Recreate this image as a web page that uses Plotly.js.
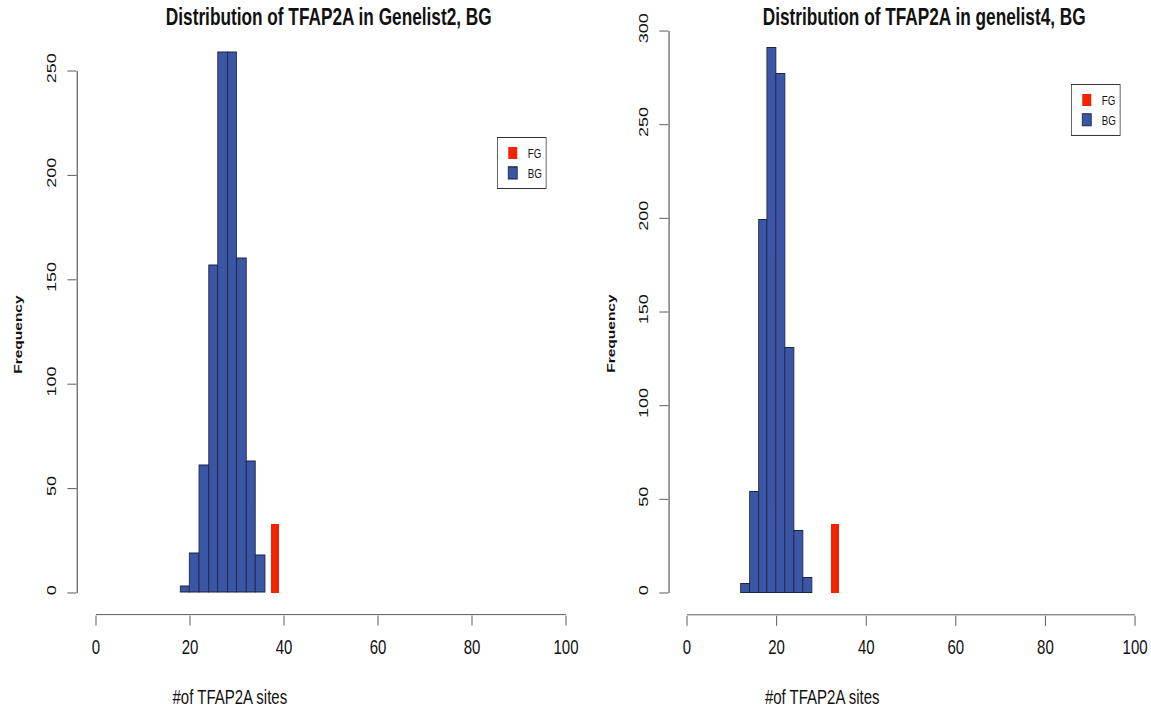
<!DOCTYPE html>
<html>
<head>
<meta charset="utf-8">
<script src="https://cdn.plot.ly/plotly-3.0.1.min.js"></script>
<style>
  html, body { margin: 0; padding: 0; background: #ffffff; overflow: hidden; }
  /* the figure is laid out on a wider canvas and condensed horizontally */
  #chart { width: 1535px; height: 708px; transform: scaleX(0.74984); transform-origin: 0 0; }
</style>
</head>
<body>
<div id="chart"></div>
<script>
// Background (BG) histogram counts, bins of width 2 given by their left edge
const bgLeftEdges  = [18, 20, 22, 24, 26, 28, 30, 32, 34];
const bgLeftCounts = [3, 19, 61, 157, 259, 259, 160, 63, 18];
const bgRightEdges  = [12, 14, 16, 18, 20, 22, 24, 26];
const bgRightCounts = [5, 54, 199, 291, 277, 131, 33, 8];

// Foreground (FG) value of each gene list and the height of its marker
const fgLeftValue   = [38];
const fgLeftHeight  = [33];
const fgRightValue  = [33];
const fgRightHeight = [37];

const xTickVals      = [0, 20, 40, 60, 80, 100];
const yTickValsLeft  = [0, 50, 100, 150, 200, 250];
const yTickValsRight = [0, 50, 100, 150, 200, 250, 300];

const titleLeft  = 'Distribution of TFAP2A in Genelist2, BG';
const titleRight = 'Distribution of TFAP2A in genelist4, BG';
const xLabel = '#of TFAP2A sites';
const yLabel = 'Frequency';

const BLUE = '#3a56a5';
const EDGE = '#1b2440';
const RED  = '#f22300';
const AXIS = '#444444';
const FONT = 'Liberation Sans, Arial, Helvetica, sans-serif';

// R-style padded ranges (4% on each side)
function padded(lo, hi) { const d = (hi - lo) * 0.04; return [lo - d, hi + d]; }
const yRangeLeft  = padded(0, Math.max(...bgLeftCounts));
const yRangeRight = padded(0, Math.max(...bgRightCounts));

const traces = [
  { type: 'bar', name: 'FG', x: fgLeftValue, y: fgLeftHeight, width: 1.8,
    marker: { color: RED, line: { width: 0 } }, xaxis: 'x', yaxis: 'y',
    legend: 'legend', legendgroup: 'fgL', hoverinfo: 'x+y' },
  { type: 'bar', name: 'BG', x: bgLeftEdges, y: bgLeftCounts, width: 2, offset: 0,
    marker: { color: BLUE, line: { color: EDGE, width: 1.1 } }, xaxis: 'x', yaxis: 'y',
    legend: 'legend', legendgroup: 'bgL', hoverinfo: 'x+y' },
  { type: 'bar', name: 'FG', x: fgRightValue, y: fgRightHeight, width: 1.8,
    marker: { color: RED, line: { width: 0 } }, xaxis: 'x2', yaxis: 'y2',
    legend: 'legend2', legendgroup: 'fgR', hoverinfo: 'x+y' },
  { type: 'bar', name: 'BG', x: bgRightEdges, y: bgRightCounts, width: 2, offset: 0,
    marker: { color: BLUE, line: { color: EDGE, width: 1.1 } }, xaxis: 'x2', yaxis: 'y2',
    legend: 'legend2', legendgroup: 'bgR', hoverinfo: 'x+y' }
];

const xDomL = [0.06707, 0.50808], yDomL = [0.13192, 0.95678];
const xDomR = [0.58130, 1.0],     yDomR = [0.13164, 0.96314];

function xAxis(domain, range, anchor) {
  return {
    domain: domain, range: range, anchor: anchor,
    showgrid: false, zeroline: false, showline: false,
    tickmode: 'array', tickvals: xTickVals,
    ticks: 'outside', ticklen: 10, tickwidth: 1.3, tickcolor: AXIS,
    ticklabelstandoff: 4,
    tickfont: { family: FONT, size: 20, color: '#111111' }
  };
}
function yAxis(domain, range, anchor, vals) {
  return {
    domain: domain, range: range, anchor: anchor,
    showgrid: false, zeroline: false, showline: false,
    tickmode: 'array', tickvals: vals, tickangle: -90,
    ticks: 'outside', ticklen: 12, tickwidth: 1, tickcolor: AXIS,
    ticklabelstandoff: 8,
    tickfont: { family: FONT, size: 18, color: '#111111' }
  };
}

// R-like axis lines that only span the tick range
function axisLines(xa, ya, xDom, yDom, yTop) {
  return [
    { type: 'line', xref: xa, yref: 'paper', x0: 0, x1: 100, y0: yDom[0], y1: yDom[0],
      line: { color: AXIS, width: 1 } },
    { type: 'line', xref: 'paper', yref: ya, x0: xDom[0], x1: xDom[0], y0: 0, y1: yTop,
      line: { color: AXIS, width: 1.4 } }
  ];
}

function legendBox(x, y) {
  return {
    x: x, y: y, xanchor: 'left', yanchor: 'top',
    bgcolor: '#ffffff', bordercolor: '#333333', borderwidth: 1,
    font: { family: FONT, size: 13, color: '#111111' },
    traceorder: 'grouped', tracegroupgap: 0, itemwidth: 30
  };
}

function label(text, x, y, size, bold, angle) {
  return {
    text: text, xref: 'paper', yref: 'paper', x: x, y: y,
    xanchor: 'center', yanchor: 'middle', showarrow: false, textangle: angle || 0,
    font: { family: FONT, size: size, color: '#111111', weight: bold ? 'bold' : 'normal' }
  };
}

const layout = {
  width: 1535, height: 708,
  margin: { l: 0, r: 0, t: 0, b: 0 },
  paper_bgcolor: '#ffffff', plot_bgcolor: '#ffffff',
  barmode: 'overlay', bargap: 0,
  showlegend: true,
  xaxis:  xAxis(xDomL, [-4, 104], 'y'),
  yaxis:  yAxis(yDomL, yRangeLeft, 'x', yTickValsLeft),
  xaxis2: xAxis(xDomR, [-4, 103.56], 'y2'),
  yaxis2: yAxis(yDomR, yRangeRight, 'x2', yTickValsRight),
  legend:  legendBox(0.4318, 0.8065),
  legend2: legendBox(0.9305, 0.8814),
  shapes: axisLines('x', 'y', xDomL, yDomL, 250).concat(axisLines('x2', 'y2', xDomR, yDomR, 300)),
  annotations: [
    label(titleLeft, 0.2859, 0.976, 23, true),
    label(titleRight, 0.8028, 0.976, 23, true),
    label(xLabel, 0.1998, 0.0155, 20, false),
    label(xLabel, 0.7142, 0.0155, 20, false),
    label(yLabel, 0.0148, 0.5282, 15.5, true, -90),
    label(yLabel, 0.5308, 0.5297, 15.5, true, -90)
  ]
};

Plotly.newPlot('chart', traces, layout, { displayModeBar: false, responsive: false });
</script>
</body>
</html>
